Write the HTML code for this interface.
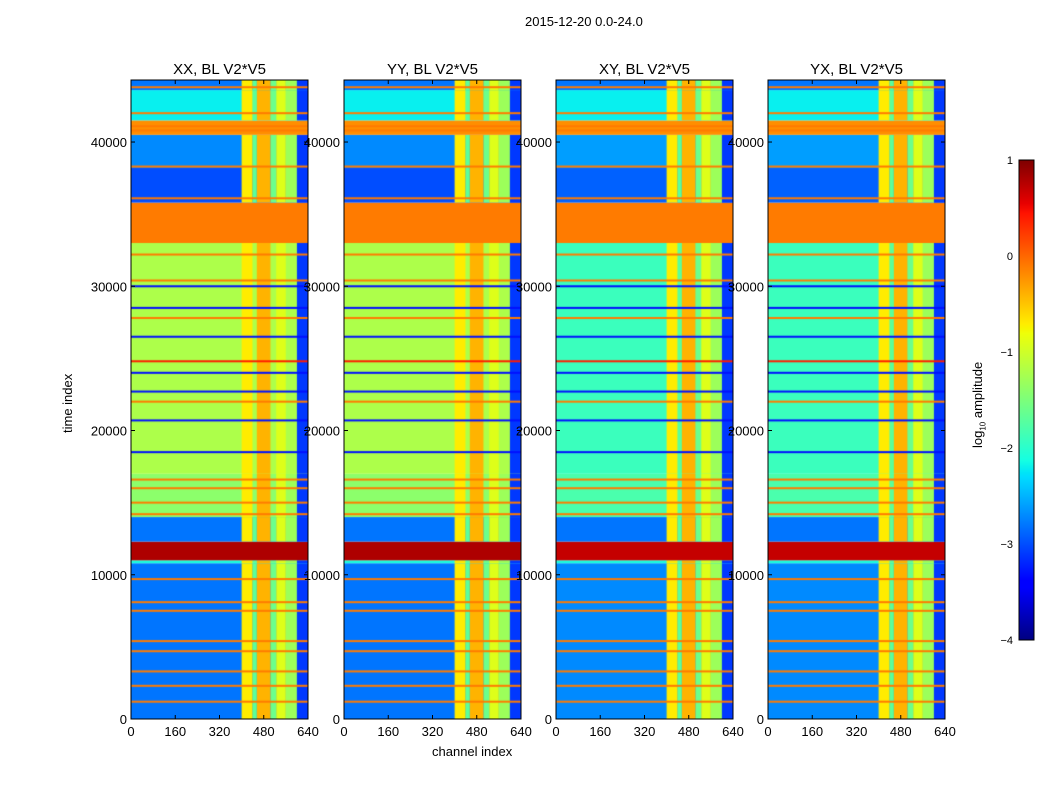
<!DOCTYPE html>
<html><head><meta charset="utf-8"><style>
body{margin:0;background:#fff;font-family:"Liberation Sans",sans-serif;}
#wrap{position:relative;width:1050px;height:800px;overflow:hidden;background:#fff}
.t{position:absolute;font-size:13px;color:#000;white-space:nowrap}
canvas{position:absolute}
</style></head><body>
<div id="wrap">
<div class="t" style="left:525px;top:14px">2015-12-20 0.0-24.0</div>
<div class="t" style="left:432px;top:744px">channel index</div>
<div class="t" style="left:60px;top:433px;transform:rotate(-90deg);transform-origin:left top">time index</div>
<div class="t" style="left:970px;top:448px;transform:rotate(-90deg);transform-origin:left top">log<sub style="font-size:8px">10</sub> amplitude</div>
<svg id="ax" width="1050" height="800" style="position:absolute;left:0;top:0"></svg>
</div>
<script>
const titles=["XX, BL V2*V5","YY, BL V2*V5","XY, BL V2*V5","YX, BL V2*V5"];
const xTicks=[0,160,320,480,640];
const yTicks=[0,10000,20000,30000,40000];
const cbTicks=[1,0,-1,-2,-3,-4];
const bandStart=[0,10800,11000,12300,14000,17000,33000,35800,38200,40500,41500,43600];
const bandEnd=[10800,11000,12300,14000,17000,33000,35800,38200,40500,41500,43600,44400];
const bandValXX=[-2.8,-2.1,0.8,-2.8,-1.4,-1.2,-0.1,-3.0,-2.7,-0.2,-2.2,-2.8];
const bandValXY=[-2.7,-2.1,0.7,-2.8,-1.8,-1.9,-0.1,-2.9,-2.6,-0.2,-2.2,-2.8];
const lineT=[1200,2300,3300,4700,5400,7500,8100,9700,14200,15000,16000,16600,18500,20700,22000,22700,24000,24800,26500,27800,28500,30000,30400,32200,36100,38300,40800,41100,42000,43800];
const lineV=[-0.1,-0.1,-0.1,-0.1,-0.1,-0.1,-0.1,-0.1,-0.1,-0.1,-0.1,-0.1,-3.3,-3.3,-0.1,-3.3,-3.3,0.4,-3.3,-0.1,-3.3,-3.3,-0.1,-0.1,-0.1,-0.1,-0.1,-0.1,-0.1,-0.1];
const stripeStart=[400,440,455,505,525,560,600];
const stripeEnd=[440,455,505,525,560,600,640];
const stripeVal=[-0.7,-1.7,-0.4,-1.6,-0.9,-1.3,-3.1];
const panelLeft=[131,344,556,768];
const pW=177,pTop=80,pBot=719,yMax=44300;
const R=[[0,0],[0.35,0],[0.66,1],[0.89,1],[1,0.5]],G=[[0,0],[0.125,0],[0.375,1],[0.64,1],[0.91,0],[1,0]],B=[[0,0.5],[0.11,1],[0.34,1],[0.65,0],[1,0]];
function seg(s,t){for(let i=1;i<s.length;i++){if(t<=s[i][0]){const a=s[i-1],b=s[i];return a[1]+(b[1]-a[1])*(t-a[0])/(b[0]-a[0]);}}return s[s.length-1][1];}
function jet(v){let t=(v+4)/5;t=Math.max(0,Math.min(1,t));
 return `rgb(${Math.round(255*seg(R,t))},${Math.round(255*seg(G,t))},${Math.round(255*seg(B,t))})`;}
const X=c=>c/640*pW, Y=t=>pBot-t/yMax*(pBot-pTop);
const wrap=document.getElementById('wrap'),svg=document.getElementById('ax');
const NS='http://www.w3.org/2000/svg';
function mk(tag,at){const e=document.createElementNS(NS,tag);for(const k in at)e.setAttribute(k,at[k]);svg.appendChild(e);return e;}
panelLeft.forEach((L,p)=>{
 const cv=document.createElement('canvas');cv.width=pW;cv.height=pBot-pTop;cv.style.left=L+'px';cv.style.top=pTop+'px';
 
 
 wrap.insertBefore(cv,svg);const g=cv.getContext('2d');
 const bv=p<2?bandValXX:bandValXY;
 const yOf=t=>Y(t)-pTop;
 bandStart.forEach((s,i)=>{
  g.fillStyle=jet(bv[i]);g.fillRect(0,yOf(bandEnd[i]),pW,yOf(s)-yOf(bandEnd[i]));
  if(bv[i]<-0.5){stripeStart.forEach((c,j)=>{g.fillStyle=jet(stripeVal[j]<-2.5?stripeVal[j]:Math.max(stripeVal[j],bv[i]));g.fillRect(X(c),yOf(bandEnd[i]),X(stripeEnd[j])-X(c),yOf(s)-yOf(bandEnd[i]));});}
 });
 lineT.forEach((t,i)=>{g.fillStyle=jet(lineV[i]);g.fillRect(0,yOf(t)-1,pW,2);});
 mk('rect',{x:L,y:pTop,width:pW,height:pBot-pTop,fill:'none',stroke:'#000',});
 const tt=mk('text',{x:L+pW/2,y:74,'text-anchor':'middle','font-size':15,'font-family':'Liberation Sans'});tt.textContent=titles[p];
 
 
 xTicks.forEach(v=>{const x=L+X(v);mk('line',{x1:x,x2:x,y1:pBot,y2:pBot-4,stroke:'#000'});mk('line',{x1:x,x2:x,y1:pTop,y2:pTop+4,stroke:'#000'});
  const e=mk('text',{x:x,y:736,'text-anchor':'middle','font-size':13,'font-family':'Liberation Sans'});e.textContent=v;
  
  });
 yTicks.forEach(v=>{const y=Y(v);mk('line',{x1:L,x2:L+4,y1:y,y2:y,stroke:'#000'});mk('line',{x1:L+pW,x2:L+pW-4,y1:y,y2:y,stroke:'#000'});
  const e=mk('text',{x:L-4,y:y+5,'text-anchor':'end','font-size':13,'font-family':'Liberation Sans'});e.textContent=v;
  
  });
});
const cbT=160,cbB=640,cbL=1019,cbW=15;
for(let i=0;i<cbB-cbT;i++){mk('rect',{x:cbL,y:cbT+i,width:cbW,height:1.2,fill:jet(1-5*i/(cbB-cbT))});}
mk('rect',{x:cbL,y:cbT,width:cbW,height:cbB-cbT,fill:'none',stroke:'#000',});
cbTicks.forEach(v=>{const y=cbB-(v+4)/5*(cbB-cbT);
 const e=mk('text',{x:1013,y:y+4,'text-anchor':'end','font-size':11,'font-family':'Liberation Sans'});e.textContent=v<0?'\u2212'+(-v):v;
 
 });
</script>
</body></html>
